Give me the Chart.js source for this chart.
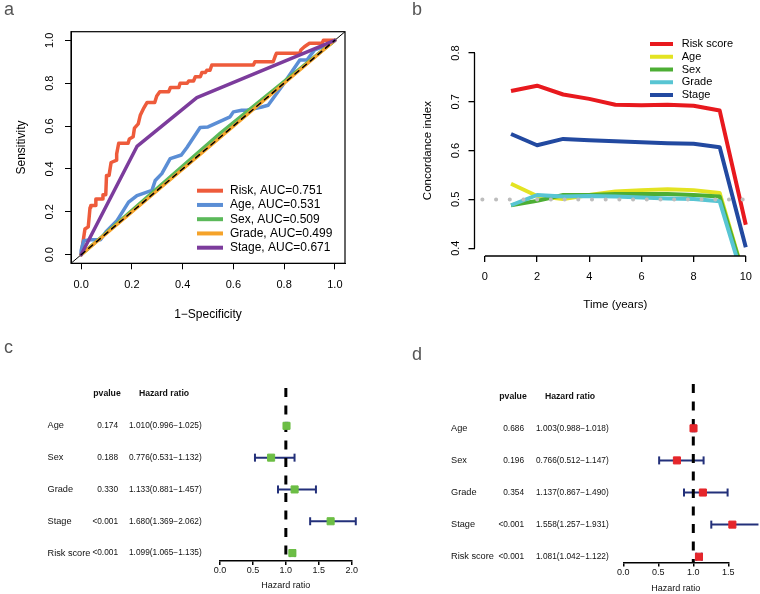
<!DOCTYPE html>
<html>
<head>
<meta charset="utf-8">
<title>Risk model evaluation</title>
<script src="https://cdn.jsdelivr.net/npm/chart.js@4.4.1/dist/chart.umd.min.js"></script>
<style>
  body { margin: 0; background: #fff; }
  #fig { position: relative; width: 760px; height: 594px; overflow: hidden; font-family: "Liberation Sans", Arial, sans-serif; }
  #fig canvas { position: absolute; }
  .tag { position: absolute; color: #555; font-size: 18px; line-height: 18px; }
</style>
</head>
<body>
<div id="fig">
  <canvas id="rocChart" width="380" height="330" style="left:0;top:0"></canvas>
  <canvas id="cindexChart" width="380" height="330" style="left:380px;top:0"></canvas>
  <canvas id="uniChart" width="380" height="264" style="left:0;top:330px"></canvas>
  <canvas id="multiChart" width="380" height="264" style="left:380px;top:330px"></canvas>
  <div class="tag" style="left:4px;top:0">a</div>
  <div class="tag" style="left:412px;top:0">b</div>
  <div class="tag" style="left:4px;top:338px">c</div>
  <div class="tag" style="left:412px;top:345px">d</div>
</div>
<script>
// ---- a: ROC curves (1-specificity vs sensitivity) ----
const rocLabels = ['Risk, AUC=0.751', 'Age, AUC=0.531', 'Sex, AUC=0.509', 'Grade, AUC=0.499', 'Stage, AUC=0.671'];
const rocColors = ['#EE5B3B', '#5B8ED5', '#5BB95A', '#F5A32A', '#7C3C9C'];
const riskFpr = [0, 0.01, 0.015, 0.028, 0.035, 0.038, 0.055, 0.058, 0.083, 0.086, 0.097, 0.1, 0.11, 0.118, 0.138, 0.14, 0.148, 0.185, 0.19, 0.205, 0.21, 0.225, 0.233, 0.245, 0.26, 0.29, 0.298, 0.31, 0.345, 0.352, 0.385, 0.39, 0.418, 0.424, 0.443, 0.45, 0.47, 0.476, 0.49, 0.495, 0.508, 0.515, 0.679, 0.685, 0.757, 0.764, 0.77, 0.862, 0.866, 0.88, 0.9, 0.95, 0.955, 1];
const riskTpr = [0, 0.08, 0.12, 0.13, 0.22, 0.23, 0.23, 0.26, 0.26, 0.28, 0.28, 0.37, 0.37, 0.43, 0.44, 0.47, 0.52, 0.52, 0.54, 0.55, 0.59, 0.61, 0.65, 0.68, 0.71, 0.71, 0.74, 0.76, 0.76, 0.78, 0.78, 0.8, 0.8, 0.81, 0.81, 0.83, 0.83, 0.85, 0.85, 0.86, 0.86, 0.885, 0.885, 0.9, 0.9, 0.923, 0.94, 0.94, 0.955, 0.97, 0.986, 0.986, 1, 1];
const ageFpr = [0, 0, 0.01, 0.04, 0.076, 0.1, 0.142, 0.187, 0.22, 0.279, 0.292, 0.318, 0.351, 0.395, 0.417, 0.469, 0.5, 0.587, 0.6, 0.633, 0.653, 0.712, 0.737, 0.79, 0.862, 0.89, 0.92, 0.987, 1];
const ageTpr = [0, 0.02, 0.065, 0.07, 0.07, 0.11, 0.16, 0.245, 0.276, 0.3, 0.346, 0.378, 0.448, 0.465, 0.5, 0.593, 0.596, 0.643, 0.666, 0.674, 0.674, 0.689, 0.697, 0.783, 0.908, 0.908, 0.955, 0.986, 1];
const sexFpr = [0, 0.55, 1];
const sexTpr = [0, 0.568, 1];
const gradeFpr = [0, 0.5, 1];
const gradeTpr = [0, 0.499, 1];
const stageFpr = [0, 0.22, 0.456, 1];
const stageTpr = [0, 0.505, 0.733, 1];
const rocTicks = [0, 0.2, 0.4, 0.6, 0.8, 1];

// ---- b: concordance index by year ----
const years = [1, 2, 3, 4, 5, 6, 7, 8, 9, 10];
const cLabels = ['Risk score', 'Age', 'Sex', 'Grade', 'Stage'];
const cColors = ['#E8191E', '#E3E322', '#4DAE34', '#58C5D3', '#2249A0'];
const cRisk = [0.722, 0.733, 0.715, 0.706, 0.694, 0.693, 0.694, 0.692, 0.682, 0.448];
const cAge = [0.532, 0.507, 0.501, 0.509, 0.516, 0.519, 0.521, 0.519, 0.513, 0.33];
const cSex = [0.488, 0.497, 0.509, 0.509, 0.511, 0.511, 0.511, 0.509, 0.506, 0.33];
const cGrade = [0.488, 0.509, 0.506, 0.507, 0.506, 0.504, 0.502, 0.501, 0.496, 0.32];
const cStage = [0.634, 0.611, 0.624, 0.621, 0.619, 0.617, 0.615, 0.614, 0.607, 0.402];
const yearTicks = [0, 2, 4, 6, 8, 10];
const cTicks = [0.4, 0.5, 0.6, 0.7, 0.8];

// ---- c/d: univariate and multivariate Cox forest plots ----
const forestVars = ['Age', 'Sex', 'Grade', 'Stage', 'Risk score'];
const uniP = ['0.174', '0.188', '0.330', '<0.001', '<0.001'];
const uniHR = [1.010, 0.776, 1.133, 1.680, 1.099];
const uniLow = [0.996, 0.531, 0.881, 1.369, 1.065];
const uniHigh = [1.025, 1.132, 1.457, 2.062, 1.135];
const multiP = ['0.686', '0.196', '0.354', '<0.001', '<0.001'];
const multiHR = [1.003, 0.766, 1.137, 1.558, 1.081];
const multiLow = [0.988, 0.512, 0.867, 1.257, 1.042];
const multiHigh = [1.018, 1.147, 1.490, 1.931, 1.122];
const uniTicks = [0, 0.5, 1, 1.5, 2];
const multiTicks = [0, 0.5, 1, 1.5];

const FONT = '"Liberation Sans", Arial, Helvetica, sans-serif';
Chart.defaults.font.family = FONT;
Chart.defaults.color = '#000';
Chart.defaults.animation = false;
Chart.defaults.responsive = false;
Chart.defaults.plugins.legend.display = false;
Chart.defaults.plugins.tooltip.enabled = false;

function xy(xs, ys) { return xs.map((x, i) => ({ x: x, y: ys[i] })); }
function setTicks(vals) { return function (scale) { scale.ticks = vals.map(v => ({ value: v })); }; }
function fit(size) { return function (scale) { if (scale.isHorizontal()) scale.height = size; else scale.width = size; }; }

// legend drawn inside the plot, R style (no box)
function lineLegend(n, o) {
  return {
    id: 'lineLegend',
    afterDraw(chart) {
      const ctx = chart.ctx;
      ctx.save();
      ctx.font = o.size + 'px ' + FONT;
      ctx.textBaseline = 'middle';
      ctx.textAlign = 'left';
      ctx.fillStyle = '#000';
      chart.data.datasets.slice(0, n).forEach((ds, i) => {
        const y = o.y + i * o.dy;
        ctx.strokeStyle = ds.borderColor;
        ctx.lineWidth = o.lw;
        ctx.beginPath();
        ctx.moveTo(o.x0, y);
        ctx.lineTo(o.x1, y);
        ctx.stroke();
        ctx.fillText(ds.label, o.tx, y);
      });
      ctx.restore();
    }
  };
}

const frame = {
  id: 'frame',
  afterDraw(chart) {
    const a = chart.chartArea, ctx = chart.ctx;
    ctx.save();
    ctx.strokeStyle = '#000';
    ctx.lineWidth = 1.2;
    ctx.strokeRect(a.left, a.top, a.right - a.left, a.bottom - a.top);
    ctx.restore();
  }
};

// R-style axis lines that only span the tick range
const rAxes = {
  id: 'rAxes',
  afterDraw(chart) {
    const ctx = chart.ctx, a = chart.chartArea, x = chart.scales.x, y = chart.scales.y;
    ctx.save();
    ctx.strokeStyle = '#000';
    ctx.lineWidth = 1.3;
    ctx.beginPath();
    ctx.moveTo(x.getPixelForValue(yearTicks[0]), a.bottom);
    ctx.lineTo(x.getPixelForValue(yearTicks[yearTicks.length - 1]), a.bottom);
    ctx.moveTo(a.left, y.getPixelForValue(cTicks[0]));
    ctx.lineTo(a.left, y.getPixelForValue(cTicks[cTicks.length - 1]));
    ctx.stroke();
    ctx.restore();
  }
};

function hrText(h, l, u) { return h.toFixed(3) + '(' + l.toFixed(3) + '\u2212' + u.toFixed(3) + ')'; }

function forestTable(p, hr, low, high, o) {
  return {
    id: 'forestTable',
    afterDraw(chart) {
      const ctx = chart.ctx, y = chart.scales.y;
      ctx.save();
      ctx.fillStyle = '#111';
      ctx.textBaseline = 'middle';
      ctx.textAlign = 'center';
      ctx.font = 'bold 8.7px ' + FONT;
      ctx.fillText('pvalue', o.pHead, y.getPixelForValue(0));
      ctx.fillText('Hazard ratio', o.hrHead, y.getPixelForValue(0));
      ctx.font = '8.3px ' + FONT;
      p.forEach((pv, i) => {
        const py = y.getPixelForValue(i + 1);
        ctx.textAlign = 'right';
        ctx.fillText(pv, o.pX, py);
        ctx.textAlign = 'left';
        ctx.fillText(hrText(hr[i], low[i], high[i]), o.hrX, py);
      });
      ctx.restore();
    }
  };
}

// ---------- panel a ----------
const rocSeries = [[riskFpr, riskTpr], [ageFpr, ageTpr], [sexFpr, sexTpr], [gradeFpr, gradeTpr], [stageFpr, stageTpr]];
const rocSets = rocSeries.map((s, i) => ({
  label: rocLabels[i], data: xy(s[0], s[1]), borderColor: rocColors[i],
  borderWidth: 3.5, order: 5 - i
}));
rocSets.push({ data: xy([-0.04, 1.04], [-0.04, 1.04]), borderColor: '#000', borderWidth: 1, order: 10 });
rocSets.push({ data: xy([0, 1], [0, 1]), borderColor: '#000', borderWidth: 1.5, borderDash: [5, 5], order: -1 });

new Chart(document.getElementById('rocChart'), {
  type: 'line',
  data: { datasets: rocSets },
  options: {
    layout: { padding: { left: 0, top: 31.7, right: 35, bottom: 0 } },
    elements: { point: { radius: 0 }, line: { borderJoinStyle: 'round', borderCapStyle: 'round' } },
    scales: {
      x: {
        type: 'linear', min: -0.04, max: 1.04,
        afterBuildTicks: setTicks(rocTicks), afterFit: fit(66.7),
        ticks: { callback: v => v.toFixed(1), font: { size: 11 }, padding: 9, maxRotation: 0, autoSkip: false },
        grid: { drawOnChartArea: false, tickLength: 6, color: '#000' },
        border: { color: '#000' },
        title: { display: true, text: '1\u2212Specificity', font: { size: 12 }, padding: { top: 0, bottom: 7.8 } }
      },
      y: {
        type: 'linear', min: -0.04, max: 1.04,
        afterBuildTicks: setTicks(rocTicks), afterFit: fit(71),
        ticks: { callback: v => v.toFixed(1), font: { size: 11 }, padding: 7.3, minRotation: 90, maxRotation: 90, crossAlign: 'center', autoSkip: false },
        grid: { drawOnChartArea: false, tickLength: 6, color: '#000' },
        border: { color: '#000' },
        title: { display: true, text: 'Sensitivity', font: { size: 12 }, padding: { top: 14, bottom: 0 } }
      }
    }
  },
  plugins: [frame, lineLegend(5, { x0: 197, x1: 223, tx: 230, y: 190.7, dy: 14.25, size: 12, lw: 4 })]
});

// ---------- panel b ----------
const cSeries = [cRisk, cAge, cSex, cGrade, cStage];
const cSets = cSeries.map((s, i) => ({
  label: cLabels[i], data: xy(years, s), borderColor: cColors[i], borderWidth: 4, order: 5 - i
}));
cSets.push({ data: xy([-0.1, 10.4], [0.5, 0.5]), borderColor: '#BDBDBD', borderWidth: 4, borderDash: [0.1, 13.6], borderCapStyle: 'round', order: -1 });

new Chart(document.getElementById('cindexChart'), {
  type: 'line',
  data: { datasets: cSets },
  options: {
    layout: { padding: { left: 0, top: 45.2, right: 2.8, bottom: 0 } },
    elements: { point: { radius: 0 }, line: { borderJoinStyle: 'round' } },
    scales: {
      x: {
        type: 'linear', min: -0.4, max: 10.4,
        afterBuildTicks: setTicks(yearTicks), afterFit: fit(74),
        ticks: { font: { size: 11 }, padding: 8, maxRotation: 0, autoSkip: false },
        grid: { drawOnChartArea: false, tickLength: 6, color: '#000', lineWidth: 1.3 },
        border: { display: false },
        title: { display: true, text: 'Time (years)', font: { size: 11.5 }, padding: { top: 0, bottom: 18 } }
      },
      y: {
        type: 'linear', min: 0.384, max: 0.816,
        afterBuildTicks: setTicks(cTicks), afterFit: fit(94.5),
        ticks: { callback: v => v.toFixed(1), font: { size: 11 }, padding: 4.5, minRotation: 90, maxRotation: 90, crossAlign: 'center', autoSkip: false },
        grid: { drawOnChartArea: false, tickLength: 6, color: '#000', lineWidth: 1.3 },
        border: { display: false },
        title: { display: true, text: 'Concordance index', font: { size: 11.5 }, padding: { top: 41, bottom: 0 } }
      }
    }
  },
  plugins: [rAxes, lineLegend(5, { x0: 270, x1: 293, tx: 301.7, y: 44, dy: 12.75, size: 11, lw: 4 })]
});

// ---------- panels c and d ----------
function forest(id, p, hr, low, high, ticks, color, g) {
  const rows = forestVars.map((v, i) => i + 1);
  const sets = [];
  sets.push({ data: xy(hr, rows), showLine: false, pointStyle: 'rect', pointRadius: 5, pointBackgroundColor: color, pointBorderColor: color, pointBorderWidth: 1, clip: false });
  sets.push({ data: xy([1, 1], [g.yMin, g.yMax]), borderColor: '#000', borderWidth: 3, borderDash: [9, 8.5], pointRadius: 0, clip: false });
  low.forEach((l, i) => sets.push({
    data: xy([l, high[i]], [rows[i], rows[i]]), borderColor: '#23307A', borderWidth: 2,
    pointStyle: 'line', pointRotation: 90, pointRadius: 4, pointBorderWidth: 2, pointBorderColor: '#23307A', clip: false
  }));
  new Chart(document.getElementById(id), {
    type: 'line',
    data: { datasets: sets },
    options: {
      layout: { padding: { left: g.left, top: g.top, right: g.right, bottom: 0 } },
      scales: {
        x: {
          type: 'linear', min: ticks[0], max: ticks[ticks.length - 1],
          afterBuildTicks: setTicks(ticks), afterFit: fit(g.xh),
          ticks: { callback: v => v.toFixed(1), font: { size: 9 }, padding: g.tp, maxRotation: 0, autoSkip: false, color: '#111' },
          grid: { drawOnChartArea: false, tickLength: 4, color: '#000', lineWidth: 1.5 },
          border: { color: '#000', width: 1.5 },
          title: { display: true, text: 'Hazard ratio', font: { size: 9 }, color: '#111', padding: { top: 0, bottom: g.titleB } }
        },
        y: {
          type: 'linear', reverse: true, min: g.yMin, max: g.yMax,
          afterBuildTicks: setTicks(rows), afterFit: fit(g.yw),
          ticks: { callback: v => forestVars[v - 1], crossAlign: 'far', font: { size: 9.2 }, padding: 0, color: '#111', autoSkip: false },
          grid: { display: false },
          border: { display: false }
        }
      }
    },
    plugins: [forestTable(p, hr, low, high, g.cols)]
  });
}

forest('uniChart', uniP, uniHR, uniLow, uniHigh, uniTicks, '#6CBE45', {
  left: 47.5, top: 58, right: 28.3, yw: 172.5, xh: 33, tp: 0, titleB: 2.6, yMin: -0.19, yMax: 5.25,
  cols: { pHead: 107, hrHead: 164, pX: 118, hrX: 129 }
});
forest('multiChart', multiP, multiHR, multiLow, multiHigh, multiTicks, '#E5262B', {
  left: 71, top: 54, right: 31.7, yw: 172.3, xh: 31.5, tp: 0.4, titleB: 0, yMin: -0.38, yMax: 5.18,
  cols: { pHead: 133, hrHead: 190, pX: 144, hrX: 156 }
});
</script>
</body>
</html>
